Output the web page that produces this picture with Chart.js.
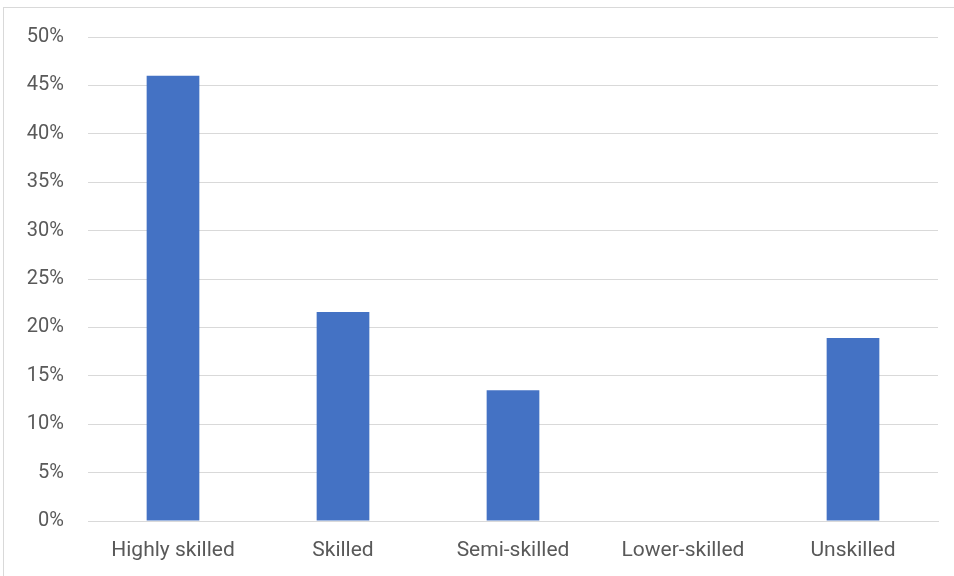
<!DOCTYPE html>
<html>
<head>
<meta charset="utf-8">
<script src="https://cdn.jsdelivr.net/npm/chart.js@4"></script>
<style>
  html, body { margin: 0; padding: 0; background: #fff; }
  #wrap { position: relative; width: 954px; height: 576px; }
  #frame { position: absolute; left: 3px; top: 7px; width: 960px; height: 580px; border: 1px solid #d9d9d9; box-sizing: border-box; pointer-events: none; }
</style>
</head>
<body>
<div id="wrap">
  <canvas id="chart" width="954" height="576"></canvas>
  <div id="frame"></div>
</div>
<script>
const categories = ['Highly skilled', 'Skilled', 'Semi-skilled', 'Lower-skilled', 'Unskilled'];
const shares = [46.0, 21.6, 13.5, 0, 18.9];
const yTicks = [0, 5, 10, 15, 20, 25, 30, 35, 40, 45, 50];

const ctx = document.getElementById('chart');

new Chart(ctx, {
  type: 'bar',
  data: {
    labels: categories,
    datasets: [{
      data: shares,
      backgroundColor: '#4472C4',
      borderWidth: 0,
      barPercentage: 0.31,
      categoryPercentage: 1
    }]
  },
  options: {
    responsive: false,
    animation: false,
    layout: { padding: { top: 37, right: 16, bottom: 0, left: 0 } },
    plugins: {
      legend: { display: false },
      tooltip: { enabled: false }
    },
    scales: {
      x: {
        grid: { display: false, drawTicks: false },
        border: { color: '#d9d9d9', width: 1 },
        ticks: {
          color: '#595959',
          font: { family: 'Roboto, sans-serif', size: 21 },
          padding: 17,
          maxRotation: 0
        },
        afterFit: function(scale) { scale.height = 55; }
      },
      y: {
        min: 0,
        max: 50,
        afterBuildTicks: function(scale) {
          scale.ticks = yTicks.map(v => ({ value: v }));
        },
        grid: { color: '#d9d9d9', lineWidth: 1, drawTicks: false },
        border: { display: false },
        ticks: {
          color: '#595959',
          font: { family: 'Roboto, sans-serif', size: 20 },
          padding: 24,
          callback: v => v + '%'
        },
        afterFit: function(scale) { scale.width = 88; }
      }
    }
  }
});
</script>
</body>
</html>
